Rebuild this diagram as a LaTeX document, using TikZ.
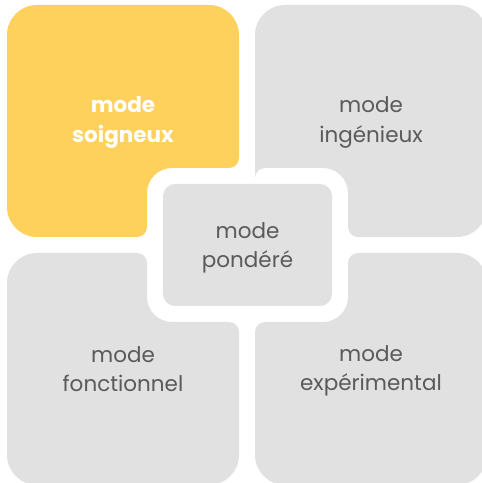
\documentclass[tikz,border=0pt]{standalone}
\usepackage{fontspec}
\setmainfont{Poppins}
\definecolor{yel}{HTML}{FED15C}
\definecolor{gry}{HTML}{E1E1E1}
\definecolor{txt}{HTML}{5A5A5A}
\begin{document}
\begin{tikzpicture}[x=1pt,y=1pt,
  lbl/.style={align=center,text=txt,font=\fontsize{21.5}{29.5}\selectfont},
  lblw/.style={align=center,text=white,font=\fontsize{21.5}{29.5}\selectfont\bfseries}]
\useasboundingbox (0,0) rectangle (482,483);
% top-left (yellow)
\fill[yel] (7,448) arc[start angle=180,end angle=90,radius=30] -- (209,478)
  arc[start angle=90,end angle=0,radius=30] -- (239,325)
  arc[start angle=0,end angle=-90,radius=10] -- (172,315)
  arc[start angle=90,end angle=180,radius=25] -- (147,256)
  arc[start angle=0,end angle=-90,radius=10] -- (37,246)
  arc[start angle=-90,end angle=-180,radius=30] -- cycle;
% top-right
\fill[gry] (255,325) -- (255,448) arc[start angle=180,end angle=90,radius=30] -- (457,478)
  arc[start angle=90,end angle=0,radius=30] -- (487,276)
  arc[start angle=0,end angle=-90,radius=30] -- (358,246)
  arc[start angle=-90,end angle=-180,radius=10] -- (348,290)
  arc[start angle=0,end angle=90,radius=25] -- (265,315)
  arc[start angle=90,end angle=180,radius=10] -- cycle;
% bottom-left
\fill[gry] (7,200) arc[start angle=180,end angle=90,radius=30] -- (137,230)
  arc[start angle=90,end angle=0,radius=10] -- (147,186)
  arc[start angle=180,end angle=270,radius=25] -- (229,161)
  arc[start angle=90,end angle=0,radius=10] -- (239,28)
  arc[start angle=0,end angle=-90,radius=30] -- (37,-2)
  arc[start angle=-90,end angle=-180,radius=30] -- cycle;
% bottom-right
\fill[gry] (255,151) arc[start angle=180,end angle=90,radius=10] -- (323,161)
  arc[start angle=-90,end angle=0,radius=25] -- (348,220)
  arc[start angle=180,end angle=90,radius=10] -- (457,230)
  arc[start angle=90,end angle=0,radius=30] -- (487,28)
  arc[start angle=0,end angle=-90,radius=30] -- (285,-2)
  arc[start angle=-90,end angle=-180,radius=30] -- cycle;
% centre
\fill[gry,rounded corners=12] (163,177) rectangle (332,299);
\node[lblw] (soig) at (123,360.5) {mode\\soigneux};
\node[lbl] (ing) at (371,360.5) {mode\\ingénieux};
\node[lbl] (fonc) at (123,114) {mode\\fonctionnel};
\node[lbl] (exp) at (371,112) {mode\\expérimental};
\node[lbl] (pond) at (247.5,235) {mode\\pondéré};
\end{tikzpicture}
\end{document}
